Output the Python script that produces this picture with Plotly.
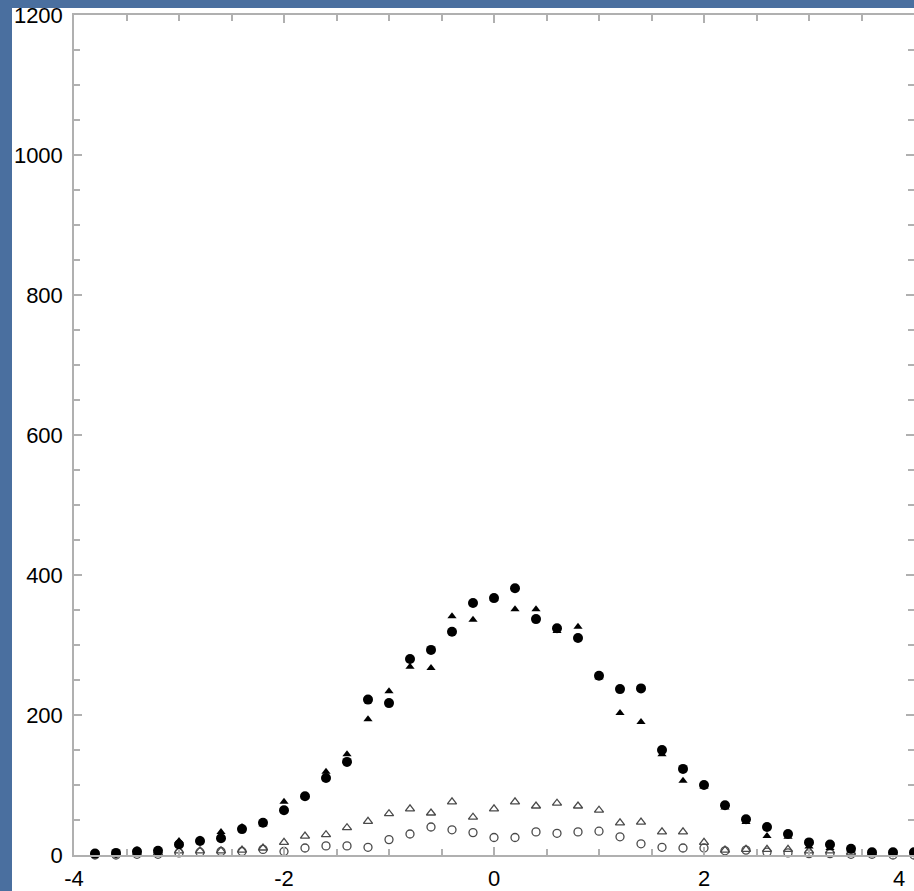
import plotly.graph_objects as go

# Bin centres along the horizontal axis
x_vals = [-3.8, -3.6, -3.4, -3.2, -3.0, -2.8, -2.6, -2.4, -2.2, -2.0,
          -1.8, -1.6, -1.4, -1.2, -1.0, -0.8, -0.6, -0.4, -0.2, 0.0,
          0.2, 0.4, 0.6, 0.8, 1.0, 1.2, 1.4, 1.6, 1.8, 2.0,
          2.2, 2.4, 2.6, 2.8, 3.0, 3.2, 3.4, 3.6, 3.8, 4.0]

# Filled circles
filled_circle = [2, 3, 5, 6, 15, 20, 24, 37, 46, 64,
                 84, 110, 133, 222, 217, 280, 293, 319, 360, 367,
                 381, 337, 324, 310, 256, 237, 238, 150, 123, 100,
                 71, 51, 40, 30, 18, 15, 9, 4, 4, 4]

# Filled triangles
filled_triangle = [2, 3, 7, 6, 20, 22, 33, 40, 44, 76,
                   84, 119, 144, 194, 234, 269, 267, 341, 336, 366,
                   351, 351, 320, 326, 254, 203, 190, 144, 106, 98,
                   68, 47, 27, 26, 12, 10, 7, 3, 2, 2]

# Open triangles
open_triangle = [1, 1, 2, 3, 6, 6, 6, 7, 10, 18,
                 27, 29, 39, 48, 59, 66, 60, 76, 54, 66,
                 76, 70, 74, 70, 64, 46, 47, 33, 33, 18,
                 7, 8, 8, 8, 6, 6, 4, 2, 1, 1]

# Open circles
open_circle = [0, 0, 1, 1, 3, 4, 5, 5, 8, 5,
               10, 13, 13, 11, 22, 30, 40, 36, 32, 25,
               25, 33, 31, 33, 34, 26, 16, 11, 10, 10,
               6, 7, 4, 3, 2, 2, 1, 1, 0, 0]

x_ticks = [-4, -2, 0, 2]
x_labels = ["-4", "-2", "0", "2"]
x_edge_label = "4"
y_ticks = [0, 200, 400, 600, 800, 1000, 1200]
y_labels = ["0", "200", "400", "600", "800", "1000", "1200"]

W, H = 914, 891
L, R, T, B = 74, 0, 15, 36
pw, ph = W - L - R, H - T - B
BLUE = "#4a6f9f"
GREY = "#b0b0b0"
FONT = dict(family="Liberation Sans, Arial", size=22, color="black")

fig = go.Figure()

def add(y, symbol, color, size, lw=0):
    fig.add_trace(go.Scatter(
        x=x_vals, y=y, mode="markers", cliponaxis=False,
        marker=dict(symbol=symbol, size=size, color=color,
                    line=dict(width=lw, color=color)),
        showlegend=False))

add(open_circle, "circle-open", "#4a4a4a", 8, 1.3)
add(open_triangle, "triangle-up-open", "#4a4a4a", 8, 1.3)
add(filled_triangle, "triangle-up", "black", 8)
add(filled_circle, "circle", "black", 10)

axis_common = dict(
    showgrid=False, zeroline=False, showline=True, linecolor=GREY,
    linewidth=1.5, mirror="ticks", ticks="inside", tickcolor=GREY,
    tickwidth=1.5, tickfont=FONT, automargin=False,
)

fig.update_xaxes(range=[-4, 4], tickvals=x_ticks, ticktext=x_labels,
                 ticklen=8, ticklabelstandoff=3,
                 minor=dict(dtick=0.5, ticks="inside", ticklen=6,
                            tickcolor=GREY, tickwidth=1.5),
                 **axis_common)
fig.update_yaxes(range=[0, 1200], tickvals=y_ticks, ticktext=y_labels,
                 ticklen=8, ticklabelstandoff=5,
                 minor=dict(dtick=50, ticks="inside", ticklen=6,
                            tickcolor=GREY, tickwidth=1.5),
                 **axis_common)

# Right-edge tick label, kept inside the page
fig.add_annotation(x=4, xref="x", y=0, yref="paper", yshift=-23,
                   xshift=-8, text=x_edge_label, showarrow=False, font=FONT,
                   xanchor="right", yanchor="middle", borderpad=0)

# Blue page border on the top and left
lx = (12 - L) / pw
fig.add_shape(type="rect", xref="paper", yref="paper",
              x0=-L / pw - 0.01, x1=lx, y0=-B / ph - 0.01, y1=1 + T / ph + 0.01,
              fillcolor=BLUE, line=dict(width=0), layer="below")
fig.add_shape(type="rect", xref="paper", yref="paper",
              x0=-L / pw - 0.01, x1=1.01, y0=1 + (T - 8) / ph,
              y1=1 + T / ph + 0.01,
              fillcolor=BLUE, line=dict(width=0), layer="below")

fig.update_layout(
    width=W, height=H,
    margin=dict(l=L, r=R, t=T, b=B),
    paper_bgcolor="white",
    plot_bgcolor="white",
)

fig.write_html("out.html")
